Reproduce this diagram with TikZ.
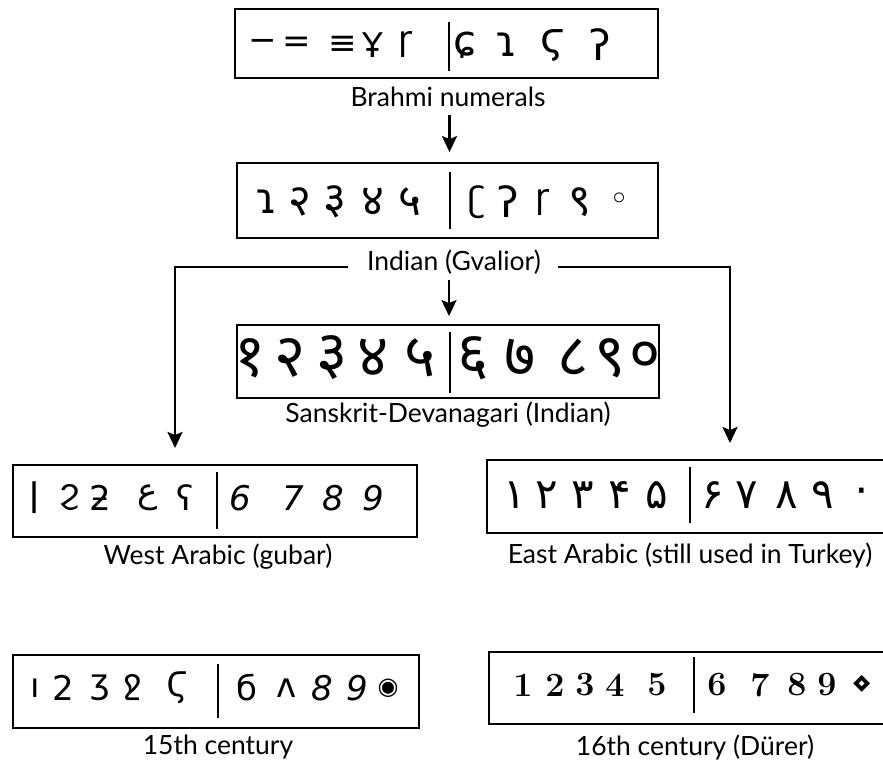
\documentclass[tikz,border=0pt]{standalone}
\usepackage{fontspec}
\usetikzlibrary{arrows.meta,calc}
\newfontfamily\lab{Lato}
\newfontfamily\deva[Script=Devanagari]{Noto Sans}
\newfontfamily\arab[Script=Arabic]{DejaVu Sans}
\newfontfamily\djv{DejaVu Sans}
\newcommand\bigdeva{\deva\fontsize{44}{46}\selectfont}
\newcommand\bigsym{\fontsize{42}{44}\selectfont}
\begin{document}
\begin{tikzpicture}[x=1pt,y=-1pt,
  box/.style={draw,line width=1.8pt,inner sep=0pt},
  lbl/.style={font=\lab\fontsize{26.5}{29}\selectfont,inner sep=0pt},
  dig/.style={inner sep=0pt,font=\djv\fontsize{34}{36}\selectfont},
  sdig/.style={inner sep=0pt,font=\deva\bfseries\fontsize{60}{62}\selectfont},
  adig/.style={inner sep=0pt,font=\arab\fontsize{42}{44}\selectfont},
  ldig/.style={inner sep=0pt,font=\bfseries\fontsize{34}{36}\selectfont},
  divl/.style={line width=2.4pt},
  arr/.style={line width=2.6pt,-{Stealth[length=16pt,width=15pt,inset=3pt]}},
  conn/.style={line width=2.4pt,-{Stealth[length=16pt,width=15pt,inset=3pt]}}]
\useasboundingbox (0,0) rectangle (883,762);
\clip (0,0) rectangle (883,762);
\fill[white] (0,0) rectangle (883,762);
% boxes
\node[box,minimum width=423pt,minimum height=69pt] (brahmi) at (446.5,43.5) {};
\node[box,minimum width=421pt,minimum height=75pt] (gval) at (447.5,200.5) {};
\node[box,minimum width=422pt,minimum height=73pt] (sansk) at (448,361.5) {};
\node[box,minimum width=404pt,minimum height=72pt] (west) at (215,501) {};
\node[box,minimum width=413pt,minimum height=73pt] (east) at (693.5,496.5) {};
\node[box,minimum width=406pt,minimum height=73pt] (fif) at (216,691.5) {};
\node[box,minimum width=411pt,minimum height=72pt] (six) at (694.5,688) {};
% dividers
\draw[divl] ($(brahmi.north)+(2.5,14)$) -- ($(brahmi.south)+(2.5,-8)$);
\draw[divl] ($(gval.north)+(2.5,10)$) -- ($(gval.south)+(2.5,-10)$);
\draw[divl] ($(sansk.north)+(2,8)$) -- ($(sansk.south)+(2,-6)$);
\draw[divl] ($(west.north)+(2,8)$) -- ($(west.south)+(2,-9)$);
\draw[divl] ($(east.north)+(-3.5,8)$) -- ($(east.south)+(-3.5,-11)$);
\draw[divl] ($(fif.north)+(2,10)$) -- ($(fif.south)+(2,-11)$);
\draw[divl] ($(six.north)+(-0.5,6)$) -- ($(six.south)+(-0.5,-12)$);
% labels
\node[lbl] (lbrahmi) at (448,97) {Brahmi numerals};
\node[lbl] (lgval) at (454,262) {Indian (Gvalior)};
\node[lbl] (lsansk) at (448,415) {Sanskrit-Devanagari (Indian)};
\node[lbl] (lwest) at (218,557) {West Arabic (gubar)};
\node[lbl] (least) at (690,555) {East Arabic (still used in Turkey)};
\node[lbl] (lfif) at (218,747) {15th century};
\node[lbl] (lsix) at (695,747) {16th century (Dürer)};
% digits
\foreach \x/\g [count=\i] in {263/{−},297/{=},343/{≡},373/{Ұ},405/{ɼ},465/{\bigsym ɕ},507/{\bigsym ɿ},553/{\bigsym ϛ},600/{\bigsym ʔ}}
  \node[dig] (b\i) at (\x,45) {\g};
\foreach \x/\g [count=\i] in {267/{\bigsym ɿ},300/{\bigdeva २},335/{\bigdeva ३},373/{\bigdeva ४},410/{\bigdeva ५},477/{ʗ},508/{\bigsym ʔ},542/{ɼ},580/{\bigdeva ९},620/{◦}}
  \node[dig] (g\i) at (\x,202) {\g};
\foreach \x/\g [count=\i] in {250/{१},290/{२},332/{३},373/{४},420/{५},473/{६},520/{७},573/{८},610/{९},645/{०}}
  \node[sdig] (s\i) at (\x,358) {\g};
\foreach \x/\g [count=\i] in {35/{ǀ},70/{ϩ},100/{ƻ},148/{\arab ع},185/{ʕ},240/{\itshape 6},293/{\itshape 7},333/{\itshape 8},373/{\itshape 9}}
  \node[dig] (w\i) at (\x,498) {\g};
\foreach \x/\g [count=\i] in {515/{۱},547/{۲},583/{۳},620/{۴},657/{۵},713/{۶},747/{۷},787/{۸},823/{۹},862/{۰}}
  \node[adig] (e\i) at (\x,495) {\g};
\foreach \x/\g [count=\i] in {35/{ı},63/{2},100/{ʒ},133/{ջ},178/{Ϛ},247/{б},287/{ʌ},322/{\itshape 8},357/{\itshape 9},388/{\fontsize{24}{26}\selectfont◉}}
  \node[dig] (f\i) at (\x,688) {\g};
\foreach \x/\g [count=\i] in {523/{1},555/{2},585/{3},615/{4},657/{5},717/{6},760/{7},797/{8},827/{9},862/{\djv ⋄}}
  \node[ldig] (x\i) at (\x,685) {\g};
% connectors
\coordinate (wtip) at (175,448);
\coordinate (etip) at (730,443);
\draw[arr] (gval.north |- lbrahmi.south) ++(2,8) -- ([xshift=2pt,yshift=10pt]gval.north);
\draw[arr] (sansk.north |- lgval.south) ++(1,6) -- ([xshift=1pt,yshift=8pt]sansk.north);
\draw[conn] ([xshift=-19pt,yshift=-5pt]lgval.west) -| (wtip);
\draw[conn] ([xshift=17pt,yshift=-5pt]lgval.east) -| (etip);
\end{tikzpicture}
\end{document}
